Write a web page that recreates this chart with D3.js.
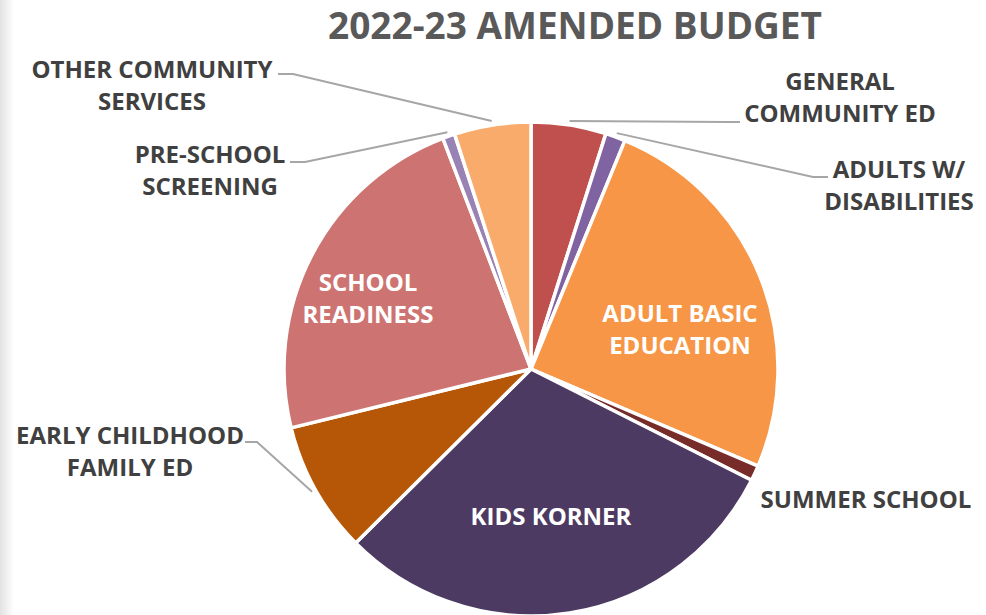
<!DOCTYPE html>
<html>
<head>
<meta charset="utf-8">
<script src="https://cdn.jsdelivr.net/npm/d3@7"></script>
<style>
  html, body { margin: 0; padding: 0; background: #fff; }
  svg { display: block; }
  text { font-family: "Open Sans", "Noto Sans", sans-serif; font-weight: 700; }
</style>
</head>
<body>
<svg id="chart" width="986" height="615"></svg>
<script>
// ---- data ----
const categories = [
  "GENERAL COMMUNITY ED",
  "ADULTS W/ DISABILITIES",
  "ADULT BASIC EDUCATION",
  "SUMMER SCHOOL",
  "KIDS KORNER",
  "EARLY CHILDHOOD FAMILY ED",
  "SCHOOL READINESS",
  "PRE-SCHOOL SCREENING",
  "OTHER COMMUNITY SERVICES"
];
const shares = [4.9, 1.3, 25.2, 1.0, 30.1, 8.6, 23.0, 0.8, 5.0];
const labelLines = [
  ["GENERAL", "COMMUNITY ED"],
  ["ADULTS W/", "DISABILITIES"],
  ["ADULT BASIC", "EDUCATION"],
  ["SUMMER SCHOOL"],
  ["KIDS KORNER"],
  ["EARLY CHILDHOOD", "FAMILY ED"],
  ["SCHOOL", "READINESS"],
  ["PRE-SCHOOL", "SCREENING"],
  ["OTHER COMMUNITY", "SERVICES"]
];
const title = "2022-23 AMENDED BUDGET";

// ---- style / layout ----
const colors = ["#C0504D", "#8064A2", "#F79646", "#772C2A", "#4C3A62",
                "#B65708", "#CD7371", "#9983B5", "#F9AB6B"];
const cx = 531, cy = 369, R = 247;
// label layout: text centre x, first baseline y, inside?, leader start & elbow
const labelLayout = [
  { x: 840, y: 90,  inside: false, start: [740, 122], elbow: [728, 122] },
  { x: 899, y: 178, inside: false, start: [828, 177], elbow: [813, 177] },
  { x: 680, y: 322, inside: true },
  { x: 866, y: 508, inside: false },
  { x: 551, y: 525, inside: true },
  { x: 130, y: 444, inside: false, start: [245, 442], elbow: [257, 442] },
  { x: 368, y: 291, inside: true },
  { x: 210, y: 163, inside: false, start: [290, 162], elbow: [305, 162] },
  { x: 152, y: 78,  inside: false, start: [278, 74],  elbow: [293, 74] }
];
const lineGap = 32;
const labelSize = 24;
const labelSqueeze = 1.0;

const svg = d3.select("#chart");

// faint textured left edge
const defs = svg.append("defs");
const grad = defs.append("linearGradient").attr("id", "edge").attr("x1", 0).attr("x2", 1);
grad.append("stop").attr("offset", 0).attr("stop-color", "#e2e2e2");
grad.append("stop").attr("offset", 1).attr("stop-color", "#ffffff");
svg.append("rect").attr("x", 0).attr("y", 0).attr("width", 14).attr("height", 615)
   .attr("fill", "url(#edge)");

// title
svg.append("text")
   .attr("x", 575).attr("y", 39)
   .attr("text-anchor", "middle")
   .attr("fill", "#595959")
   .attr("font-size", 37)
   .text(title);

const pie = d3.pie().sort(null).value(d => d).startAngle(0).endAngle(2 * Math.PI);
const arcs = pie(shares);
const arc = d3.arc().innerRadius(0).outerRadius(R);
const rimArc = d3.arc().innerRadius(R + 4).outerRadius(R + 4);

const g = svg.append("g").attr("transform", `translate(${cx},${cy})`);
g.selectAll("path.slice")
  .data(arcs)
  .join("path")
  .attr("class", "slice")
  .attr("d", arc)
  .attr("fill", (d, i) => colors[i])
  .attr("stroke", "#ffffff")
  .attr("stroke-width", 3.5)
  .attr("stroke-linejoin", "round");

// leader lines
arcs.forEach((d, i) => {
  const L = labelLayout[i];
  if (!L.start) return;
  const [px, py] = rimArc.centroid(d);
  const pts = [L.start, L.elbow, [cx + px, cy + py]];
  svg.append("polyline")
     .attr("points", pts.map(p => p.join(",")).join(" "))
     .attr("fill", "none")
     .attr("stroke", "#A6A6A6")
     .attr("stroke-width", 2);
});

// labels
labelLines.forEach((lines, i) => {
  const L = labelLayout[i];
  const t = svg.append("text")
     .attr("text-anchor", "middle")
     .attr("font-size", labelSize)
     .attr("fill", L.inside ? "#ffffff" : "#404040")
     .attr("transform", `translate(${L.x},0) scale(${labelSqueeze},1) translate(${-L.x},0)`);
  lines.forEach((ln, k) => {
    t.append("tspan").attr("x", L.x).attr("y", L.y + k * lineGap).text(ln);
  });
});
</script>
</body>
</html>
